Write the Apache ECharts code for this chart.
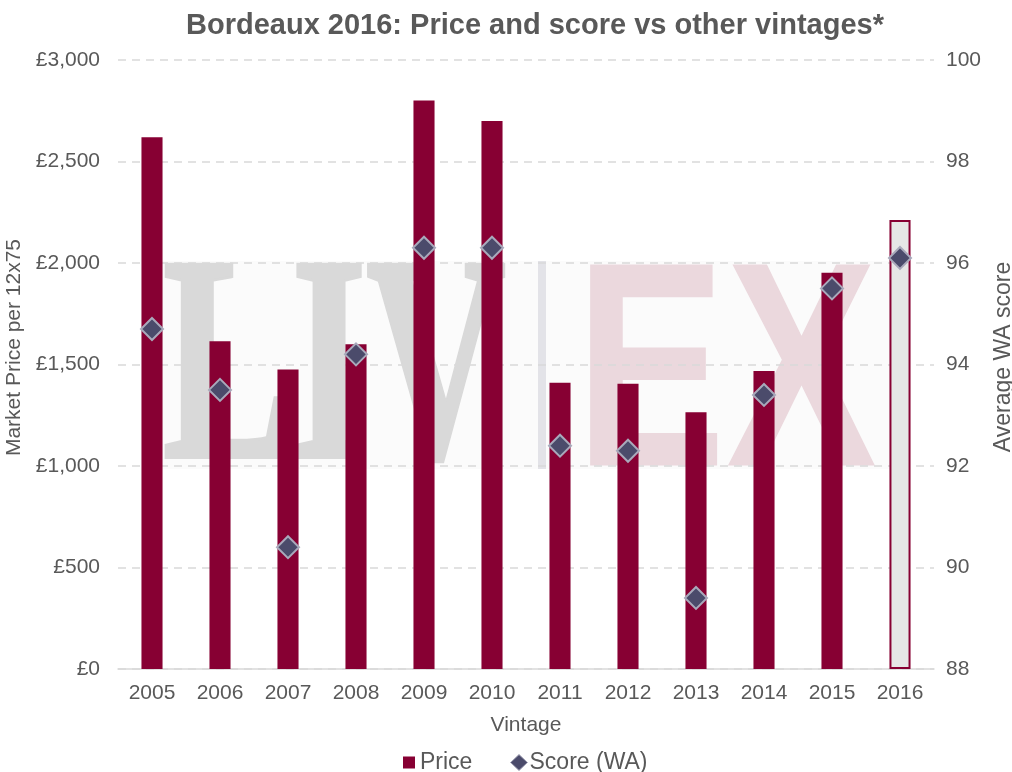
<!DOCTYPE html>
<html>
<head>
<meta charset="utf-8">
<script src="https://cdn.jsdelivr.net/npm/echarts@6/dist/echarts.min.js"></script>
<style>html,body{margin:0;padding:0;background:#fff}#c{width:1012px;height:772px}</style>
</head>
<body>
<div id="c"></div>
<script>
var vintages = ['2005','2006','2007','2008','2009','2010','2011','2012','2013','2014','2015','2016'];
var prices = [2620, 1615, 1475, 1600, 2800, 2700, 1410, 1405, 1265, 1468, 1952, 2212];
var scores = [94.7, 93.5, 90.4, 94.2, 96.3, 96.3, 92.4, 92.3, 89.4, 93.4, 95.5, 96.1];
var priceTicks = [0, 500, 1000, 1500, 2000, 2500, 3000];
var scoreTicks = [88, 90, 92, 94, 96, 98, 100];

var FONT = '"Liberation Sans", Arial, sans-serif';
var TXT = '#595959';
var BAR = '#870033';
var DIAMOND = '#4b4b6b';
var DIAMOND_EDGE = '#a9a9bb';

var chart = echarts.init(document.getElementById('c'), null, {renderer: 'canvas'});

var barData = prices.map(function (v, i) {
  if (i === prices.length - 1) {
    return {value: v, itemStyle: {color: '#e6e6e6', borderColor: BAR, borderWidth: 2}};
  }
  return v;
});

chart.setOption({
  animation: false,
  backgroundColor: '#fff',
  textStyle: {fontFamily: FONT, color: TXT},
  title: {
    text: 'Bordeaux 2016: Price and score vs other vintages*',
    left: 530, top: 6, textAlign: 'center',
    textStyle: {fontFamily: FONT, fontSize: 29, fontWeight: 'bold', color: TXT}
  },
  graphic: [
    {type: 'rect', z: -10, silent: true, shape: {x: 160, y: 261, width: 730, height: 208}, style: {fill: '#fbfbfb'}},
    {type: 'text', z: -9, silent: true, x: 163, y: 381, scaleX: 0.66, scaleY: 1,
      style: {text: 'LIV', x: 0, y: 0, fill: '#d9d9d9', stroke: '#d9d9d9', lineWidth: 5,
        font: 'bold 292px "Liberation Serif", serif', align: 'left', verticalAlign: 'middle', textAlign: 'left', textVerticalAlign: 'middle'}},
    {type: 'rect', z: -9, silent: true, shape: {x: 538, y: 261, width: 8, height: 208}, style: {fill: '#e3e3e8'}},
    {type: 'text', z: -9, silent: true, x: 575, y: 385, scaleX: 0.775, scaleY: 1,
      style: {text: 'EX', x: 0, y: 0, fill: '#ebd8dd', font: 'bold 292px "Liberation Sans", sans-serif', align: 'left', verticalAlign: 'middle', textAlign: 'left', textVerticalAlign: 'middle'}}
  ],
  legend: [
    {
      left: 398, top: 746, itemWidth: 12, itemHeight: 12, itemGap: 0,
      textStyle: {fontFamily: FONT, fontSize: 23, color: TXT},
      data: [{name: 'Price', icon: 'rect'}]
    },
    {
      left: 505, top: 746, itemWidth: 17, itemHeight: 16, itemGap: 0,
      textStyle: {fontFamily: FONT, fontSize: 23, color: TXT, padding: [0, 0, 0, -3]},
      data: [{name: 'Score (WA)', icon: 'diamond', itemStyle: {color: DIAMOND, borderColor: DIAMOND_EDGE, borderWidth: 1}}]
    }
  ],
  grid: {left: 118, right: 78, top: 60, bottom: 103, containLabel: false, outerBoundsMode: 'none'},
  xAxis: {
    type: 'category',
    data: vintages,
    name: 'Vintage',
    nameLocation: 'middle',
    nameGap: 46,
    nameTextStyle: {fontFamily: FONT, fontSize: 21, color: TXT},
    axisLine: {show: true, lineStyle: {color: '#d9d9d9', width: 1.5}},
    axisTick: {show: false},
    axisLabel: {fontFamily: FONT, fontSize: 21, color: TXT, margin: 14}
  },
  yAxis: [
    {
      type: 'value', min: priceTicks[0], max: priceTicks[priceTicks.length - 1], interval: 500,
      name: 'Market Price per 12x75',
      nameLocation: 'middle', nameGap: 82,
      nameTextStyle: {fontFamily: FONT, fontSize: 21, color: TXT, padding: [0, 0, 0, 34]},
      axisLine: {show: false}, axisTick: {show: false},
      axisLabel: {fontFamily: FONT, fontSize: 21, color: TXT, margin: 18,
        formatter: function (v) { return '£' + v.toLocaleString('en-GB'); }},
      splitLine: {show: true, lineStyle: {color: '#d9d9d9', width: 1.5, type: [8, 6]}}
    },
    {
      type: 'value', min: scoreTicks[0], max: scoreTicks[scoreTicks.length - 1], interval: 2,
      name: 'Average WA score',
      nameLocation: 'middle', nameGap: 48,
      nameTextStyle: {fontFamily: FONT, fontSize: 23, color: TXT, padding: [0, 0, 0, 15]},
      axisLine: {show: false}, axisTick: {show: false},
      axisLabel: {fontFamily: FONT, fontSize: 21, color: TXT, margin: 12},
      splitLine: {show: false}
    }
  ],
  series: [
    {
      name: 'Price', type: 'bar', yAxisIndex: 0,
      barWidth: '31%',
      itemStyle: {color: BAR},
      data: barData
    },
    {
      name: 'Score (WA)', type: 'scatter', yAxisIndex: 1,
      symbol: 'diamond', symbolSize: 22,
      itemStyle: {color: DIAMOND, borderColor: DIAMOND_EDGE, borderWidth: 2, opacity: 1},
      z: 5,
      data: scores
    }
  ]
});
</script>
</body>
</html>
